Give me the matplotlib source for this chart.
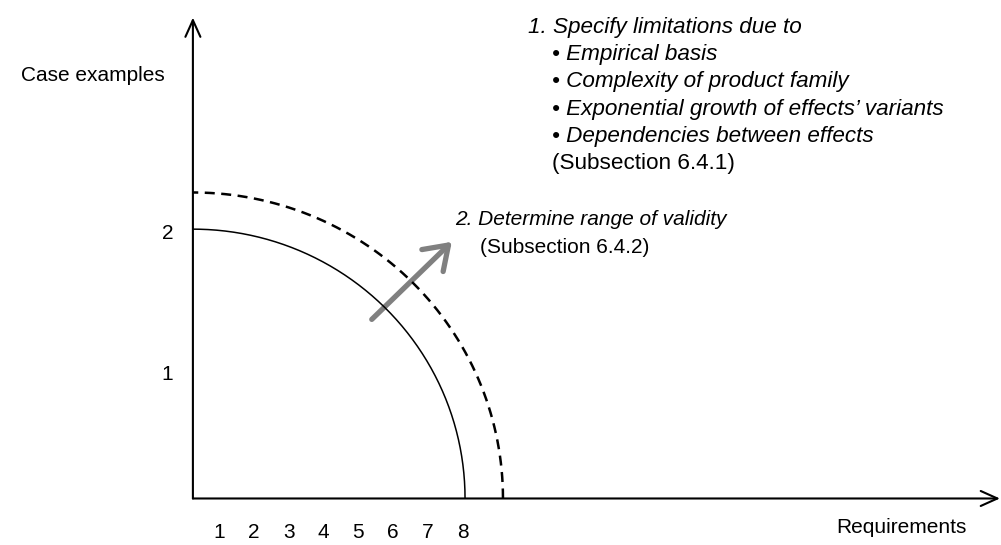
import matplotlib
matplotlib.use("Agg")
import matplotlib.pyplot as plt
import numpy as np
from matplotlib.patches import FancyArrowPatch

plt.rcParams['font.family'] = ['Liberation Sans', 'DejaVu Sans']

# schematic values (requirements on x, case examples on y)
req_ticks = [1, 2, 3, 4, 5, 6, 7, 8]
case_ticks = [1, 2]
origin = (0.25, 0.11)           # where the two axes meet
current_scope = (8.07, 2.02)    # solid arc: requirements, case examples
extended_scope = (9.16, 2.28)   # dashed arc
growth_from = (5.39, 1.38)      # grey arrow tail
growth_to = (7.69, 1.93)        # grey arrow tip

note1 = ["1. Specify limitations due to",
         "• Empirical basis",
         "• Complexity of product family",
         "• Exponential growth of effects\u2019 variants",
         "• Dependencies between effects",
         "(Subsection 6.4.1)"]
note2 = ["2. Determine range of validity", "(Subsection 6.4.2)"]

fig = plt.figure(figsize=(10.01, 5.45), dpi=100)
ax = fig.add_axes([0, 0, 1, 1])
ax.set_xlim(-5.293, 23.471)
ax.set_ylim(-0.2199, 3.645)
ax.axis('off')

# axes with open arrow heads
ax_style = dict(arrowstyle='->,head_length=1.0,head_width=0.45', mutation_scale=12,
                lw=1.5, color='black', shrinkA=0, shrinkB=0)
ax.add_patch(FancyArrowPatch(origin, (origin[0], 3.52), **ax_style))
ax.add_patch(FancyArrowPatch(origin, (23.44, origin[1]), **ax_style))

# quarter arcs
t = np.linspace(0, np.pi / 2, 200)
for (rx, ry), ls, lw in [(current_scope, '-', 1.1), (extended_scope, (0, (4, 2.6)), 1.8)]:
    xs = origin[0] + (rx - origin[0]) * np.cos(t)
    ys = origin[1] + (ry - origin[1]) * np.sin(t)
    ax.plot(xs, ys, color='black', lw=lw, linestyle=ls, solid_capstyle='butt')

# grey growth arrow
ax.add_patch(FancyArrowPatch(growth_from, growth_to,
                             arrowstyle='->,head_length=0.8,head_width=0.55', mutation_scale=20,
                             lw=3.8, color='#808080', shrinkA=0, shrinkB=0,
                             capstyle='round', joinstyle='round'))

fs = 15
for k in req_ticks:
    ax.text(k, -0.170, str(k), ha='center', va='baseline', fontsize=fs)
for k in case_ticks:
    ax.text(-0.48, k - 0.05, str(k), ha='center', va='baseline', fontsize=fs)

ax.text(-0.55, 3.071, 'Case examples', ha='right', va='baseline', fontsize=fs)
ax.text(22.49, -0.135, 'Requirements', ha='right', va='baseline', fontsize=fs)

step = 0.193
for i, line in enumerate(note1):
    x = 9.88 if i == 0 else 10.57
    style = 'normal' if line.startswith('(') else 'italic'
    ax.text(x, 3.411 - i * step, line, ha='left', va='baseline', fontsize=16.2, style=style)

ax.text(7.78, 2.05, note2[0], ha='left', va='baseline', fontsize=fs, style='italic')
ax.text(8.50, 1.851, note2[1], ha='left', va='baseline', fontsize=fs)

fig.savefig('out.png', dpi=100)
